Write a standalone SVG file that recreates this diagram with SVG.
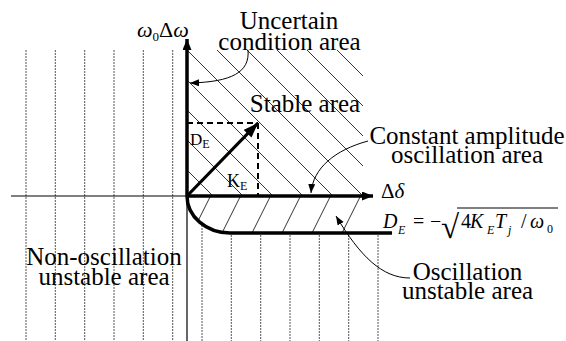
<svg xmlns="http://www.w3.org/2000/svg" width="566" height="341" viewBox="0 0 566 341" font-family="'Liberation Serif','Times New Roman',serif">
<style>
text{font-family:"Liberation Serif","Times New Roman",serif;fill:#000}
.lbl{font-size:25px;text-anchor:middle}
.it{font-style:italic}
.grid{stroke:#555;stroke-width:1;stroke-dasharray:2,1;fill:none}
.hatch{stroke:#000;stroke-width:0.8;fill:none}
.thick{stroke:#000;stroke-width:3.5;fill:none}
.thin{stroke:#000;stroke-width:1.2;fill:none}
.dash{stroke:#000;stroke-width:2;stroke-dasharray:6,4;fill:none}
.lead{stroke:#000;stroke-width:1;fill:none}
</style>
<defs>
<marker id="axArrow" markerUnits="userSpaceOnUse" markerWidth="14" markerHeight="12" refX="11" refY="4.5" orient="auto">
<path d="M0,0 L11,4.5 L0,9 Z" fill="#000"/>
</marker>
<marker id="leadArrow" markerUnits="userSpaceOnUse" markerWidth="12" markerHeight="10" refX="9" refY="3.5" orient="auto">
<path d="M0,0 L9,3.5 L0,7 Z" fill="#000"/>
</marker>
<marker id="vecArrow" markerUnits="userSpaceOnUse" markerWidth="18" markerHeight="14" refX="15" refY="5.5" orient="auto">
<path d="M0,0 L15,5.5 L0,11 Z" fill="#000"/>
</marker>
</defs>
<g id="grid-left">
<line class="grid" x1="26" y1="50" x2="26" y2="341"/>
<line class="grid" x1="55.3" y1="50" x2="55.3" y2="341"/>
<line class="grid" x1="84.7" y1="50" x2="84.7" y2="341"/>
<line class="grid" x1="114" y1="50" x2="114" y2="341"/>
<line class="grid" x1="143.3" y1="50" x2="143.3" y2="341"/>
<line class="grid" x1="172.7" y1="50" x2="172.7" y2="341"/>
</g>
<g id="grid-right">
<line class="grid" x1="202" y1="225" x2="202" y2="341"/>
<line class="grid" x1="231.3" y1="235" x2="231.3" y2="341"/>
<line class="grid" x1="260.7" y1="235" x2="260.7" y2="341"/>
<line class="grid" x1="290" y1="235" x2="290" y2="341"/>
<line class="grid" x1="319.3" y1="235" x2="319.3" y2="341"/>
<line class="grid" x1="348.7" y1="235" x2="348.7" y2="341"/>
<line class="grid" x1="378" y1="235" x2="378" y2="341"/>
</g>
<g id="hatch-stable">
<line class="hatch" x1="337" y1="50" x2="363" y2="76"/>
<line class="hatch" x1="307" y1="50" x2="363" y2="106"/>
<line class="hatch" x1="277" y1="50" x2="363" y2="136"/>
<line class="hatch" x1="247" y1="50" x2="363" y2="166"/>
<line class="hatch" x1="217" y1="50" x2="363" y2="196"/>
<line class="hatch" x1="187" y1="50" x2="333" y2="196"/>
<line class="hatch" x1="187" y1="80" x2="303" y2="196"/>
<line class="hatch" x1="187" y1="110" x2="273" y2="196"/>
<line class="hatch" x1="187" y1="140" x2="243" y2="196"/>
<line class="hatch" x1="187" y1="170" x2="213" y2="196"/>
</g>
<g id="hatch-osc">
<line class="hatch" x1="210" y1="197" x2="198.1" y2="220.8"/>
<line class="hatch" x1="240" y1="197" x2="222" y2="233"/>
<line class="hatch" x1="270" y1="197" x2="252" y2="233"/>
<line class="hatch" x1="300" y1="197" x2="282" y2="233"/>
<line class="hatch" x1="330" y1="197" x2="312" y2="233"/>
<line class="hatch" x1="360" y1="197" x2="342" y2="233"/>
</g>
<g id="axes">
<line class="thin" x1="187" y1="196" x2="187" y2="341"/>
<line class="thin" x1="11" y1="196" x2="187" y2="196"/>
<line class="thick" x1="187" y1="196" x2="187" y2="39" marker-end="url(#axArrow)"/>
<line class="thick" x1="187" y1="196" x2="373" y2="196" marker-end="url(#axArrow)"/>
<path class="thick" d="M187,196 A43,37 0 0 0 230,233 L392,233"/>
</g>
<g id="vector">
<line class="dash" x1="187" y1="123" x2="258" y2="123"/>
<line class="dash" x1="258" y1="123" x2="258" y2="196"/>
<line stroke="#000" stroke-width="3.2" x1="187" y1="196" x2="258" y2="123" marker-end="url(#vecArrow)"/>
</g>
<g id="connectors">
<path class="lead" d="M248,50 C250,72 232,82 190,83" marker-end="url(#leadArrow)"/>
<path class="lead" d="M368,141 C335,150 313,168 311,193" marker-end="url(#leadArrow)"/>
<path class="lead" d="M410,278 C382,278 360,256 336,216" marker-end="url(#leadArrow)"/>
</g>
<g id="axis-labels">
<text x="137" y="37" font-size="22"><tspan class="it">ω</tspan><tspan font-size="13" dy="4">0</tspan><tspan dy="-4">Δ</tspan><tspan class="it">ω</tspan></text>
<text x="381" y="198" font-size="21">Δ<tspan class="it">δ</tspan></text>
</g>
<g id="node-uncertain">
<text class="lbl" x="289" y="29">Uncertain</text>
<text class="lbl" x="289.5" y="50">condition area</text>
</g>
<g id="node-stable">
<text class="lbl" x="305" y="112">Stable area</text>
</g>
<g id="node-constant">
<text class="lbl" x="467" y="144">Constant amplitude</text>
<text class="lbl" x="467" y="163">oscillation area</text>
</g>
<g id="node-nonosc">
<text class="lbl" x="104" y="265">Non-oscillation</text>
<text class="lbl" x="104" y="285">unstable area</text>
</g>
<g id="node-osc">
<text class="lbl" x="467.5" y="280">Oscillation</text>
<text class="lbl" x="467.5" y="299">unstable area</text>
</g>
<g id="vector-labels">
<text x="190" y="145" font-size="17">D<tspan font-size="12" dy="3">E</tspan></text>
<text x="227" y="187" font-size="18">K<tspan font-size="12" dy="3">E</tspan></text>
</g>
<g id="formula" font-size="20">
<text x="383" y="228" class="it">D</text>
<text x="398" y="234" font-size="12" class="it">E</text>
<text x="413" y="228">=</text>
<text x="430" y="228">−</text>
<text x="441" y="238" font-size="33">√</text>
<line x1="457" y1="208" x2="558" y2="208" stroke="#000" stroke-width="1.2"/>
<text x="461" y="228">4</text>
<text x="470" y="228" class="it">K</text>
<text x="487" y="234" font-size="12" class="it">E</text>
<text x="495" y="228" class="it">T</text>
<text x="508" y="234" font-size="12" class="it">j</text>
<text x="521" y="228">/</text>
<text x="530" y="228" class="it">ω</text>
<text x="547" y="233" font-size="12">0</text>
</g>
</svg>
